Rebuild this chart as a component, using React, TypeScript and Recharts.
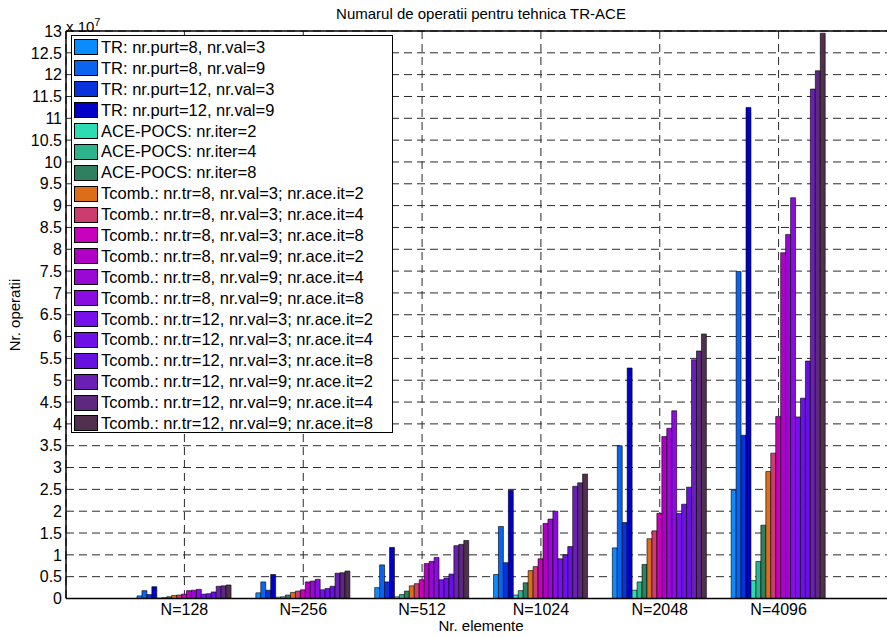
import { BarChart, Bar, XAxis, YAxis, CartesianGrid, Legend, ReferenceLine } from "recharts";

// values are in units of 10^7 operations
const categories = ["N=128", "N=256", "N=512", "N=1024", "N=2048", "N=4096"];

const seriesNames = [
  "TR: nr.purt=8, nr.val=3",
  "TR: nr.purt=8, nr.val=9",
  "TR: nr.purt=12, nr.val=3",
  "TR: nr.purt=12, nr.val=9",
  "ACE-POCS: nr.iter=2",
  "ACE-POCS: nr.iter=4",
  "ACE-POCS: nr.iter=8",
  "Tcomb.: nr.tr=8, nr.val=3; nr.ace.it=2",
  "Tcomb.: nr.tr=8, nr.val=3; nr.ace.it=4",
  "Tcomb.: nr.tr=8, nr.val=3; nr.ace.it=8",
  "Tcomb.: nr.tr=8, nr.val=9; nr.ace.it=2",
  "Tcomb.: nr.tr=8, nr.val=9; nr.ace.it=4",
  "Tcomb.: nr.tr=8, nr.val=9; nr.ace.it=8",
  "Tcomb.: nr.tr=12, nr.val=3; nr.ace.it=2",
  "Tcomb.: nr.tr=12, nr.val=3; nr.ace.it=4",
  "Tcomb.: nr.tr=12, nr.val=3; nr.ace.it=8",
  "Tcomb.: nr.tr=12, nr.val=9; nr.ace.it=2",
  "Tcomb.: nr.tr=12, nr.val=9; nr.ace.it=4",
  "Tcomb.: nr.tr=12, nr.val=9; nr.ace.it=8",
];

const seriesValues = [
  [0.06, 0.13, 0.25, 0.55, 1.16, 2.48],
  [0.18, 0.38, 0.77, 1.65, 3.5, 7.49],
  [0.09, 0.19, 0.38, 0.82, 1.74, 3.74],
  [0.27, 0.55, 1.17, 2.48, 5.28, 11.25],
  [0.01, 0.03, 0.04, 0.08, 0.19, 0.41],
  [0.02, 0.04, 0.09, 0.18, 0.38, 0.85],
  [0.04, 0.08, 0.17, 0.36, 0.78, 1.68],
  [0.07, 0.14, 0.29, 0.64, 1.37, 2.91],
  [0.08, 0.17, 0.34, 0.73, 1.55, 3.33],
  [0.1, 0.2, 0.43, 0.91, 1.95, 4.17],
  [0.18, 0.38, 0.8, 1.72, 3.71, 7.92],
  [0.19, 0.4, 0.85, 1.82, 3.9, 8.34],
  [0.21, 0.44, 0.94, 2.0, 4.3, 9.18],
  [0.1, 0.2, 0.43, 0.91, 1.95, 4.16],
  [0.11, 0.23, 0.47, 1.0, 2.16, 4.59],
  [0.15, 0.28, 0.56, 1.19, 2.55, 5.44],
  [0.28, 0.58, 1.21, 2.57, 5.47, 11.67],
  [0.29, 0.59, 1.24, 2.65, 5.67, 12.09],
  [0.31, 0.63, 1.33, 2.85, 6.06, 12.95],
];

const seriesColors = [
  "#0a8cff", "#0a64f0", "#0a32dc", "#0000c8",
  "#2edcb4", "#2db48c", "#2e8060",
  "#dc6e1a", "#cc3c6e", "#c800be",
  "#b000c8", "#9a08d6", "#8a0ce0",
  "#7810ec", "#6e10e8", "#6810e0",
  "#6a20b4", "#5c2880", "#50304e",
];

const yTicks = Array.from({ length: 27 }, (_, i) => i * 0.5);

const data = categories.map((cat, ci) => {
  const row: Record<string, string | number> = { cat };
  seriesValues.forEach((vals, si) => {
    row["s" + si] = vals[ci];
  });
  return row;
});

const FONT = '"Liberation Sans", Arial, Helvetica, sans-serif';

function LegendBox() {
  return (
    <div
      style={{
        border: "1px solid #000",
        background: "#fff",
        boxSizing: "border-box",
        width: 322,
        height: 398,
        paddingTop: 1,
        fontFamily: FONT,
        fontSize: 16.5,
        color: "#000",
      }}
    >
      {seriesNames.map((name, i) => (
        <div key={name} style={{ display: "flex", alignItems: "center", height: 20.9 }}>
          <span
            style={{
              display: "inline-block",
              width: 24,
              height: 16,
              marginLeft: 2,
              marginRight: 3,
              background: seriesColors[i],
              border: "1px solid #000",
              boxSizing: "border-box",
            }}
          />
          <span style={{ whiteSpace: "nowrap" }}>{name}</span>
        </div>
      ))}
    </div>
  );
}

export default function App() {
  return (
    <div
      style={{
        position: "absolute",
        left: 0,
        top: 0,
        width: 887,
        height: 638,
        overflow: "hidden",
        background: "#fff",
        fontFamily: FONT,
      }}
    >
      <BarChart
        width={897}
        height={638}
        data={data}
        margin={{ top: 31, right: 0, bottom: 9.5, left: 10 }}
        barGap={0}
      >
        <CartesianGrid stroke="#2a2a2a" strokeDasharray="8 5" strokeWidth={1} />
        <XAxis
          dataKey="cat"
          padding={{ left: 59, right: 59 }}
          height={30}
          tickLine={false}
          tickSize={0}
          tickMargin={5}
          axisLine={{ stroke: "#000", strokeWidth: 1.5 }}
          tick={{ fill: "#000", fontSize: 16, fontFamily: FONT }}
          interval={0}
        />
        <YAxis
          type="number"
          domain={[0, 13]}
          ticks={yTicks}
          interval={0}
          width={56}
          tickLine={false}
          tickSize={0}
          tickMargin={4}
          axisLine={{ stroke: "#000", strokeWidth: 1.5 }}
          tick={{ fill: "#000", fontSize: 16, fontFamily: FONT }}
          tickFormatter={(v: number) => String(v)}
        />
        <ReferenceLine y={13} stroke="#000" strokeWidth={1.5} />
        <Legend
          layout="vertical"
          align="center"
          verticalAlign="middle"
          wrapperStyle={{ left: 71, top: 35, width: 322, height: 398 }}
          content={() => <LegendBox />}
        />
        {seriesNames.map((name, i) => (
          <Bar
            key={name}
            dataKey={"s" + i}
            name={name}
            fill={seriesColors[i]}
            stroke="#000"
            strokeWidth={0.6}
            barSize={4.95}
            isAnimationActive={false}
          />
        ))}
      </BarChart>

      <div
        style={{
          position: "absolute",
          left: 481,
          top: 5,
          transform: "translateX(-50%)",
          whiteSpace: "nowrap",
          fontSize: 15,
          lineHeight: "18px",
        }}
      >
        Numarul de operatii pentru tehnica TR-ACE
      </div>
      <div
        style={{
          position: "absolute",
          left: 66,
          top: 13,
          whiteSpace: "nowrap",
          fontSize: 15,
          lineHeight: "18px",
        }}
      >
        x 10<sup style={{ fontSize: 11, verticalAlign: "6px" }}>7</sup>
      </div>
      <div
        style={{
          position: "absolute",
          left: 14,
          top: 315,
          transform: "translate(-50%, -50%) rotate(-90deg)",
          whiteSpace: "nowrap",
          fontSize: 15,
        }}
      >
        Nr. operatii
      </div>
      <div
        style={{
          position: "absolute",
          left: 481,
          top: 617,
          transform: "translateX(-50%)",
          whiteSpace: "nowrap",
          fontSize: 15,
          lineHeight: "18px",
        }}
      >
        Nr. elemente
      </div>
    </div>
  );
}
